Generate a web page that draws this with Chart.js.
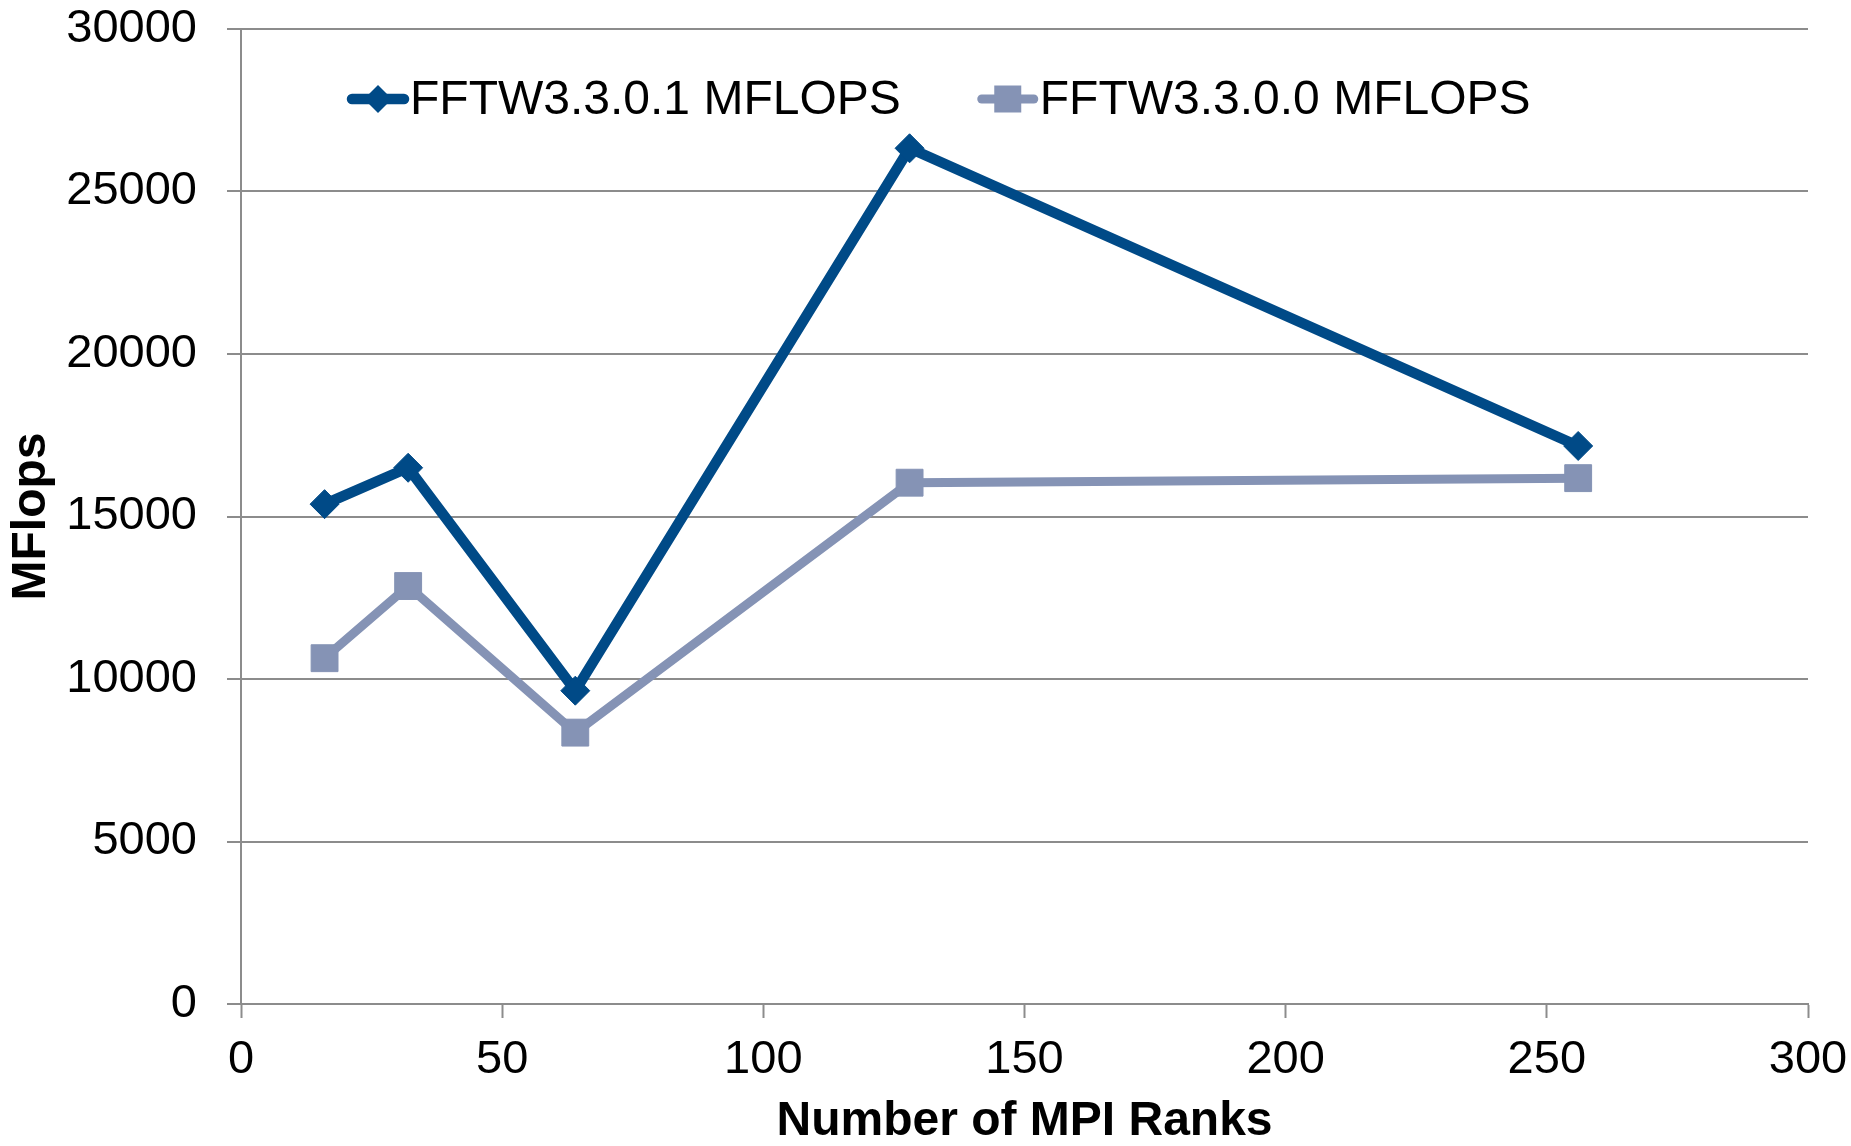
<!DOCTYPE html>
<html>
<head>
<meta charset="utf-8">
<script src="https://cdn.jsdelivr.net/npm/chart.js@4/dist/chart.umd.min.js"></script>
<style>
  html, body { margin: 0; padding: 0; background: #ffffff; }
  #wrap { width: 1851px; height: 1146px; }
</style>
</head>
<body>
<div id="wrap"><canvas id="c" width="1851" height="1146"></canvas></div>
<script>
// ---- data ----
const ranks = [16, 32, 64, 128, 256];
const fftw3301 = [15380, 16500, 9640, 26330, 17170];
const fftw3300 = [10640, 12860, 8350, 16040, 16180];
const seriesNames = ['FFTW3.3.0.1 MFLOPS', 'FFTW3.3.0.0 MFLOPS'];
const xTitle = 'Number of MPI Ranks';
const yTitle = 'MFlops';

// ---- styles ----
const DARK = '#004a87';
const LIGHT = '#8593b5';
const GRID = '#8c8c8c';
const FONT = '"Liberation Sans", Arial, sans-serif';

const toPts = (xs, ys) => xs.map((x, i) => ({ x: x, y: ys[i] }));

const legendPlugin = {
  id: 'customLegend',
  afterDraw(chart) {
    const ctx = chart.ctx;
    const area = chart.chartArea;
    const y = 99;
    let x = area.left + 107;
    ctx.save();
    ctx.font = '48px ' + FONT;
    ctx.textBaseline = 'middle';
    ctx.textAlign = 'left';
    chart.data.datasets.forEach((ds) => {
      ctx.strokeStyle = ds.borderColor;
      ctx.lineWidth = ds.borderWidth;
      ctx.lineCap = 'round';
      ctx.beginPath();
      ctx.moveTo(x + 4, y);
      ctx.lineTo(x + 56, y);
      ctx.stroke();
      const cx = x + 30;
      ctx.fillStyle = ds.pointBackgroundColor;
      ctx.beginPath();
      if (ds.pointStyle === 'rectRot') {
        const r = 14;
        ctx.moveTo(cx, y - r);
        ctx.lineTo(cx + r, y);
        ctx.lineTo(cx, y + r);
        ctx.lineTo(cx - r, y);
        ctx.closePath();
      } else {
        const h = 13.5;
        ctx.rect(cx - h, y - h, 2 * h, 2 * h);
      }
      ctx.fill();
      ctx.fillStyle = '#000000';
      ctx.fillText(ds.label, x + 62, y + 2);
      x += 62 + ctx.measureText(ds.label).width + 77;
    });
    ctx.restore();
  }
};

new Chart(document.getElementById('c'), {
  type: 'line',
  data: {
    datasets: [
      {
        label: seriesNames[0],
        data: toPts(ranks, fftw3301),
        borderColor: DARK,
        backgroundColor: DARK,
        pointBackgroundColor: DARK,
        pointBorderColor: DARK,
        borderWidth: 10.5,
        pointStyle: 'rectRot',
        pointRadius: 14.5,
        pointBorderWidth: 1,
        borderJoinStyle: 'round',
        tension: 0
      },
      {
        label: seriesNames[1],
        data: toPts(ranks, fftw3300),
        borderColor: LIGHT,
        backgroundColor: LIGHT,
        pointBackgroundColor: LIGHT,
        pointBorderColor: LIGHT,
        borderWidth: 9,
        pointStyle: 'rect',
        pointRadius: 19,
        pointBorderWidth: 1,
        borderJoinStyle: 'round',
        tension: 0
      }
    ]
  },
  options: {
    responsive: false,
    animation: false,
    devicePixelRatio: 1,
    layout: { padding: { left: 0, right: 43, top: 29, bottom: 0 } },
    plugins: {
      legend: { display: false },
      tooltip: { enabled: false }
    },
    scales: {
      x: {
        type: 'linear',
        min: 0,
        max: 300,
        ticks: {
          stepSize: 50,
          color: '#000000',
          font: { family: FONT, size: 47 },
          padding: 14,
          maxRotation: 0,
          callback: (v) => String(v)
        },
        grid: {
          drawOnChartArea: false,
          drawTicks: true,
          tickLength: 14,
          tickColor: GRID,
          tickWidth: 2,
          color: GRID
        },
        border: { display: true, color: GRID, width: 2 },
        title: {
          display: true,
          text: xTitle,
          color: '#000000',
          font: { family: FONT, size: 48, weight: 'bold', lineHeight: 1.0 },
          padding: { top: 0, bottom: 0 }
        },
        afterFit(scale) {
          scale.height = 142;
          scale.paddingLeft = 0; scale.paddingRight = 0;
          scale.paddingTop = 0; scale.paddingBottom = 0;
        }
      },
      y: {
        min: 0,
        max: 30000,
        ticks: {
          stepSize: 5000,
          color: '#000000',
          font: { family: FONT, size: 47 },
          padding: 30,
          callback: (v) => String(v)
        },
        grid: {
          drawOnChartArea: true,
          drawTicks: true,
          tickLength: 14,
          color: GRID,
          lineWidth: 2,
          tickColor: GRID,
          tickWidth: 2
        },
        border: { display: true, color: GRID, width: 2 },
        title: {
          display: true,
          text: yTitle,
          color: '#000000',
          font: { family: FONT, size: 48, weight: 'bold', lineHeight: 1.0 },
          padding: { top: 8, bottom: 0 }
        },
        afterFit(scale) {
          scale.width = 241;
          scale.paddingLeft = 0; scale.paddingRight = 0;
          scale.paddingTop = 0; scale.paddingBottom = 0;
        }
      }
    }
  },
  plugins: [legendPlugin]
});
</script>
</body>
</html>
